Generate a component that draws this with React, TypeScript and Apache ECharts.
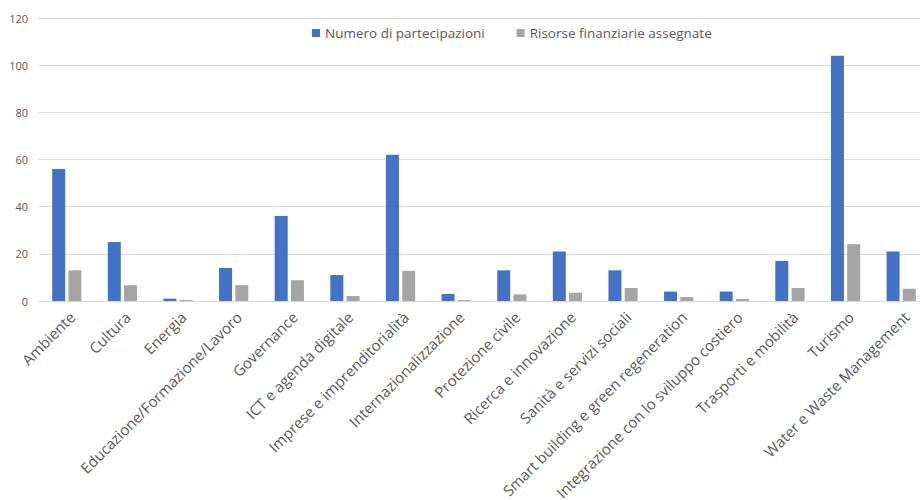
import React, { useEffect, useRef } from "react";
import * as echarts from "echarts";

const categories = [
  "Ambiente",
  "Cultura",
  "Energia",
  "Educazione/Formazione/Lavoro",
  "Governance",
  "ICT e agenda digitale",
  "Imprese e imprenditorialità",
  "Internazionalizzazione",
  "Protezione civile",
  "Ricerca e innovazione",
  "Sanità e servizi sociali",
  "Smart building e green regeneration",
  "Integrazione con lo sviluppo costiero",
  "Trasporti e mobilità",
  "Turismo",
  "Water e Waste Management",
];

const partecipazioni = [56, 25, 1, 14, 36, 11, 62, 3, 13, 21, 13, 4, 4, 17, 104, 21];
const risorse = [13, 6.7, 0.4, 6.7, 8.8, 2.1, 12.8, 0.4, 2.8, 3.5, 5.5, 1.7, 0.85, 5.5, 24.1, 5.2];

const seriesNames = ["Numero di partecipazioni", "Risorse finanziarie assegnate"];
const yTicks = { min: 0, max: 120, interval: 20 };

export default function App() {
  const ref = useRef<HTMLDivElement>(null);
  useEffect(() => {
    if (!ref.current) return;
    const chart = echarts.init(ref.current, null, { renderer: "svg" });
    const font = "'Open Sans', Lato, sans-serif";
    chart.setOption({
      animation: false,
      textStyle: { fontFamily: font },
      legend: {
        top: 21,
        left: 307,
        itemWidth: 8,
        itemHeight: 8,
        itemGap: 32,
        icon: "rect",
        textStyle: { color: "#595959", fontSize: 13.5, fontFamily: font },
        data: seriesNames,
      },
      grid: {
        left: 39,
        right: -9,
        top: 18,
        bottom: 199,
        containLabel: false,
        outerBoundsMode: "none",
      },
      xAxis: {
        type: "category",
        data: categories,
        axisLine: { lineStyle: { color: "#D9D9D9" } },
        axisTick: { show: false },
        axisLabel: {
          rotate: 45,
          interval: 0,
          color: "#595959",
          fontSize: 15,
          fontFamily: font,
          margin: 8,
          verticalAlign: "top",
        },
      },
      yAxis: {
        type: "value",
        min: yTicks.min,
        max: yTicks.max,
        interval: yTicks.interval,
        axisLine: { show: false },
        axisTick: { show: false },
        splitLine: { lineStyle: { color: "#D9D9D9" } },
        axisLabel: { color: "#595959", fontSize: 11, fontFamily: font, margin: 11 },
      },
      series: [
        {
          name: seriesNames[0],
          type: "bar",
          data: partecipazioni,
          barWidth: 13,
          barGap: "25%",
          itemStyle: { color: "#4472C4" },
        },
        {
          name: seriesNames[1],
          type: "bar",
          data: risorse,
          barWidth: 13,
          barGap: "25%",
          itemStyle: { color: "#A5A5A5" },
        },
      ],
    });
    return () => chart.dispose();
  }, []);
  return (
    <div
      ref={ref}
      style={{ position: "absolute", left: 0, top: 0, width: 920, height: 500, overflow: "hidden" }}
    />
  );
}
